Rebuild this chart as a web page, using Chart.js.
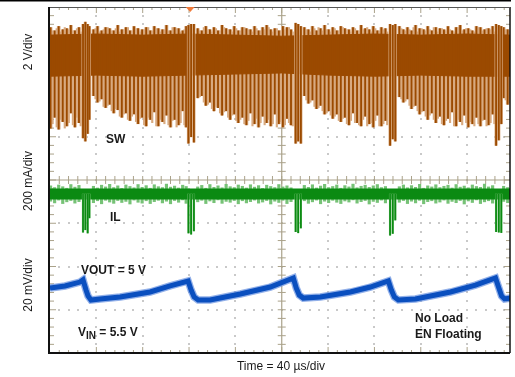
<!DOCTYPE html>
<html>
<head>
<meta charset="utf-8">
<script src="https://cdn.jsdelivr.net/npm/chart.js@4.4.1/dist/chart.umd.min.js"></script>
<style>
html, body { margin: 0; padding: 0; background: #fff; }
#wrap { width: 515px; height: 377px; }
</style>
</head>
<body>
<div id="wrap"><canvas id="scope" width="515" height="377"></canvas></div>
<script>
// time in µs (40 µs/div), SW in V, IL in mA, VOUT ripple in mV
var usPerDiv = 40;
var triggerT = 121;

// switching pulses between the burst events
var pulseT = [0.5, 4, 7.5, 11, 14.5, 18, 21.5, 25,
	37.5, 41, 44.5, 48, 51.5, 55, 58.5, 62, 65.5, 69, 72.5, 76, 79.5, 83, 86.5, 90, 93.5, 97, 100.5, 104, 107.5, 111, 114.5, 117.5,
	127.5, 131, 134.5, 138, 141.5, 145, 148.5, 152, 155.5, 159, 162.5, 166, 169.5, 173, 176.5, 180, 183.5, 187, 190.5, 194, 197.5, 201, 204.5, 208,
	219.5, 223, 226.5, 230, 233.5, 237, 240.5, 244, 247.5, 251, 254.5, 258, 261.5, 265, 268.5, 272, 275.5, 279, 282.5, 286, 289.5,
	301.5, 305, 308.5, 312, 315.5, 319, 322.5, 326, 329.5, 333, 336.5, 340, 343.5, 347, 350.5, 354, 357.5, 361, 364.5, 368, 371.5, 375, 378.5, 382,
	391.5, 395];
var swLow = [0.8, 1.3, 0.75, 1.1, 0.9, 1.5, 0.85, 1.05,
	2.3, 2.0, 2.15, 1.75, 1.9, 1.5, 1.65, 1.3, 1.5, 1.15, 1.45, 1.0, 1.3, 0.9, 1.2, 1.55, 0.9, 1.1, 1.4, 0.85, 1.2, 0.95, 1.6, 0.85,
	2.2, 2.3, 1.85, 2.0, 1.6, 1.75, 1.4, 1.6, 1.2, 1.45, 1.05, 1.3, 0.95, 1.5, 1.0, 0.85, 1.35, 1.05, 0.9, 1.45, 1.0, 0.85, 1.25, 0.95,
	2.3, 1.95, 2.1, 1.7, 1.85, 1.45, 1.6, 1.25, 1.45, 1.1, 1.3, 0.95, 1.5, 1.05, 0.9, 1.35, 1.0, 0.85, 1.4, 0.9, 1.15,
	2.25, 2.0, 2.15, 1.7, 1.85, 1.45, 1.6, 1.2, 1.5, 1.05, 1.35, 0.95, 1.25, 1.55, 0.9, 1.1, 1.4, 0.85, 1.0, 1.3, 0.9, 1.2, 0.95, 1.45,
	2.2, 1.9];
var swHigh = [5.45, 5.3, 5.5, 5.35, 5.4, 5.55, 5.3, 5.45,
	5.35, 5.5, 5.3, 5.45, 5.4, 5.3, 5.55, 5.35, 5.45, 5.3, 5.5, 5.4, 5.35, 5.45, 5.3, 5.5, 5.4, 5.35, 5.55, 5.3, 5.45, 5.4, 5.3, 5.5,
	5.4, 5.3, 5.5, 5.35, 5.45, 5.3, 5.55, 5.4, 5.35, 5.5, 5.3, 5.45, 5.4, 5.35, 5.5, 5.3, 5.45, 5.55, 5.35, 5.4, 5.3, 5.5, 5.45, 5.35,
	5.45, 5.35, 5.5, 5.3, 5.4, 5.55, 5.35, 5.45, 5.3, 5.5, 5.4, 5.35, 5.45, 5.3, 5.55, 5.4, 5.35, 5.5, 5.3, 5.45, 5.4,
	5.5, 5.35, 5.45, 5.3, 5.55, 5.4, 5.35, 5.5, 5.3, 5.45, 5.4, 5.35, 5.5, 5.3, 5.45, 5.55, 5.35, 5.4, 5.3, 5.5, 5.45, 5.35, 5.4, 5.5,
	5.45, 5.35];

// ringing spikes in between the main pulses
var ringT = [2.25, 5.75, 9.25, 12.75, 16.25, 19.75, 23.25, 26.5,
	39.25, 42.75, 46.25, 49.75, 53.25, 56.75, 60.25, 63.75, 67.25, 70.75, 74.25, 77.75, 81.25, 84.75, 88.25, 91.75, 95.25, 98.75, 102.25, 105.75, 109.25, 112.75, 116,
	129.25, 132.75, 136.25, 139.75, 143.25, 146.75, 150.25, 153.75, 157.25, 160.75, 164.25, 167.75, 171.25, 174.75, 178.25, 181.75, 185.25, 188.75, 192.25, 195.75, 199.25, 202.75, 206.25, 209.5,
	221.25, 224.75, 228.25, 231.75, 235.25, 238.75, 242.25, 245.75, 249.25, 252.75, 256.25, 259.75, 263.25, 266.75, 270.25, 273.75, 277.25, 280.75, 284.25, 287.75, 291,
	303.25, 306.75, 310.25, 313.75, 317.25, 320.75, 324.25, 327.75, 331.25, 334.75, 338.25, 341.75, 345.25, 348.75, 352.25, 355.75, 359.25, 362.75, 366.25, 369.75, 373.25, 376.75, 380.25, 383.5,
	393.25, 396.5];
var ringLow = [1.0, 0.85, 1.2, 0.8, 1.05, 0.95, 1.3, 0.9,
	2.15, 2.05, 1.8, 1.85, 1.6, 1.7, 1.35, 1.45, 1.2, 1.35, 1.1, 1.25, 0.95, 1.3, 1.05, 0.9, 1.2, 1.0, 0.95, 1.15, 0.85, 1.05, 0.95,
	2.25, 2.0, 1.9, 1.7, 1.8, 1.5, 1.55, 1.3, 1.4, 1.15, 1.2, 1.0, 1.15, 0.9, 1.25, 1.05, 0.95, 1.2, 1.0, 0.85, 1.1, 0.95, 1.05, 0.9,
	2.1, 2.0, 1.8, 1.75, 1.6, 1.5, 1.4, 1.35, 1.15, 1.25, 1.0, 1.15, 1.05, 0.95, 1.2, 0.9, 1.05, 1.15, 0.9, 1.0, 0.95,
	2.15, 2.05, 1.85, 1.8, 1.6, 1.55, 1.35, 1.4, 1.2, 1.25, 1.0, 1.15, 1.05, 0.9, 1.2, 0.95, 1.05, 1.1, 0.9, 1.0, 1.15, 0.9, 1.05, 1.0,
	2.1, 2.0];
var ringHigh = [5.3, 5.4, 5.25, 5.45, 5.35, 5.3, 5.4, 5.25,
	5.4, 5.25, 5.35, 5.45, 5.3, 5.4, 5.25, 5.35, 5.45, 5.3, 5.4, 5.25, 5.35, 5.45, 5.3, 5.4, 5.25, 5.35, 5.3, 5.45, 5.4, 5.25, 5.35,
	5.3, 5.45, 5.35, 5.25, 5.4, 5.3, 5.45, 5.35, 5.25, 5.4, 5.3, 5.45, 5.35, 5.25, 5.4, 5.3, 5.35, 5.45, 5.25, 5.4, 5.3, 5.35, 5.45, 5.25,
	5.35, 5.25, 5.4, 5.45, 5.3, 5.35, 5.25, 5.4, 5.3, 5.45, 5.35, 5.25, 5.4, 5.3, 5.35, 5.45, 5.25, 5.4, 5.3, 5.35, 5.25,
	5.4, 5.3, 5.35, 5.45, 5.25, 5.4, 5.3, 5.35, 5.45, 5.25, 5.4, 5.3, 5.35, 5.25, 5.45, 5.3, 5.4, 5.35, 5.25, 5.45, 5.3, 5.4, 5.35, 5.25,
	5.35, 5.3];

var ilHigh = [38, 30, 42, 34, 27, 44, 32, 40,
	36, 28, 41, 33, 45, 30, 38, 26, 42, 35, 29, 44, 31, 39, 27, 43, 34, 30, 46, 32, 37, 28, 41, 35,
	33, 40, 27, 44, 31, 38, 29, 45, 34, 30, 42, 36, 28, 43, 32, 39, 26, 41, 35, 30, 44, 33, 38, 29,
	40, 31, 43, 28, 37, 45, 30, 35, 42, 27, 39, 33, 46, 29, 36, 41, 31, 38, 44, 30, 35,
	34, 42, 29, 39, 31, 45, 27, 38, 33, 43, 30, 36, 41, 28, 44, 32, 37, 29, 42, 35, 31, 46, 33, 39,
	36, 30];
var ilLow = [-33, -41, -28, -44, -36, -30, -42, -35,
	-40, -31, -45, -29, -37, -43, -30, -39, -34, -46, -28, -38, -42, -31, -44, -35, -29, -41, -33, -45, -30, -38, -27, -43,
	-36, -29, -44, -32, -40, -27, -43, -34, -38, -30, -45, -31, -41, -35, -28, -42, -37, -30, -46, -33, -39, -29, -44, -35,
	-31, -43, -36, -28, -45, -33, -40, -29, -38, -44, -32, -37, -27, -42, -35, -30, -46, -34, -39, -28, -41,
	-38, -30, -44, -33, -41, -29, -45, -35, -31, -42, -37, -28, -43, -34, -40, -30, -46, -32, -39, -27, -44, -36, -31, -42,
	-34, -40];

// burst events (deep SW spikes, IL dips)
var evT = [28.5, 30.5, 32.5, 34.0, 119.5, 121.8, 124.2, 212.0, 214.2, 216.5, 293.5, 295.8, 298.0, 385.0, 387.3, 389.5];
var evSwLow = [0.35, 0.2, 0.55, 1.2, 0.1, 0.4, 0.15, 0.1, 0.2, 0.1, 0.0, 0.3, 0.2, 0.0, 0.25, 1.0];
var evSwHigh = [5.6, 5.7, 5.6, 5.5, 5.55, 5.6, 5.6, 5.65, 5.6, 5.5, 5.6, 5.55, 5.6, 5.6, 5.55, 5.5];
var evIlLow = [-176, -165, -180, -110, -180, -185, -170, -174, -179, -157, -190, -182, -120, -174, -176, -178];

// dense SW switching band
var bandT = [0, 40, 80, 120, 160, 200, 240, 280, 320, 360, 397];
var bandTop = [5.1, 5.15, 5.1, 5.15, 5.1, 5.05, 5.1, 5.15, 5.1, 5.15, 5.1];
var bandBot = [3.2, 3.25, 3.2, 3.25, 3.3, 3.35, 3.25, 3.2, 3.25, 3.2, 3.2];

// IL baseline
var ilBaseT = [0, 100, 200, 300, 397];
var ilBase = [0, 0, 0, 0, 0];

// VOUT ripple sawtooth
var voutT = [0, 13, 25.9, 28.5, 31.1, 32.8, 35.4, 43.2, 60.5, 86.4, 103.7, 119.2, 121.8, 124.4, 127.9, 138.2, 164.2, 190.1,
	210, 212.5, 215.1, 218.6, 233.3, 259.2, 276.5, 292, 294.6, 297.2, 300.7, 315.4, 345.6, 367.2, 384.5, 387.1, 389.7, 392.3, 397.4];
var voutMv = [0.5, 1.4, 3.2, 4.2, -0.5, -3.2, -5.1, -4.6, -3.7, -1.4, 1.4, 3.7, -0.5, -3.7, -5.1, -5.1, -2.3, 0.9,
	5.1, 0.5, -2.8, -4.2, -3.7, -1.4, 0.9, 3.7, -0.5, -3.7, -5.1, -4.6, -1.4, 1.8, 5.1, 0.9, -3.2, -4.6, -4.2];

var xy = function (xs, ys) {
	return xs.map(function (t, i) { return { x: t, y: ys[i] }; });
};
var span = function (xs, lo, hi) {
	return xs.map(function (t, i) { return { x: t, y: [lo[i], Array.isArray(hi) ? hi[i] : hi] }; });
};

var ORANGE = '#9b4a00', ORANGE_LT = '#d8aa80';
var GREEN = '#0b8a12', GREEN_LT = '#76c276';
var BLUE = '#0a4fbf', BLUE_LT = 'rgba(110,150,225,0.75)';

var bars = function (data, color, w, axis, order) {
	return { type: 'bar', data: data, backgroundColor: color, barThickness: w, grouped: false,
		borderWidth: 0, yAxisID: axis, order: order };
};
var line = function (data, color, w, axis, order, extra) {
	var d = { type: 'line', data: data, borderColor: color, borderWidth: w, pointRadius: 0,
		tension: 0, fill: false, yAxisID: axis, order: order };
	return Object.assign(d, extra || {});
};

var FONT = '"Liberation Sans", Arial, Helvetica, sans-serif';

var scopeGrid = {
	id: 'scopeGrid',
	beforeDatasetsDraw: function (chart) {
		var ctx = chart.ctx, a = chart.chartArea, sx = chart.scales.x;
		var dx = sx.getPixelForValue(usPerDiv) - sx.getPixelForValue(0);
		var dy = (a.bottom - a.top) / 8;
		var seg = function (x1, y1, x2, y2) {
			ctx.beginPath(); ctx.moveTo(x1, y1); ctx.lineTo(x2, y2); ctx.stroke();
		};
		ctx.save();
		ctx.fillStyle = '#c9c9c9';
		for (var i = 1; i < 10; i++) {
			if (i === 5) continue;
			var gx = Math.round(a.left + i * dx);
			for (var j = 1; j < 40; j++) ctx.fillRect(gx - 1, Math.round(a.top + j * dy / 5) - 1, 2, 2);
		}
		for (var k = 1; k < 8; k++) {
			if (k === 4) continue;
			var gy = Math.round(a.top + k * dy);
			for (var m = 1; m < 50; m++) {
				var px = a.left + m * dx / 5;
				if (px > a.right - 3) break;
				ctx.fillRect(Math.round(px) - 1, gy - 1, 2, 2);
			}
		}
		var cx = a.left + 5 * dx, cy = a.top + 4 * dy;
		ctx.strokeStyle = '#aaa28a';
		ctx.lineWidth = 1.2;
		seg(cx, a.top, cx, a.bottom);
		seg(a.left, cy, a.right, cy);
		ctx.lineWidth = 1;
		for (var n = 1; n < 40; n++) {
			var ty = a.top + n * dy / 5, len = n % 5 ? 4 : 6;
			seg(cx - 4, ty, cx + 4, ty);
			seg(a.left, ty, a.left + len, ty);
			seg(a.right, ty, a.right - len, ty);
		}
		for (var q = 1; q < 50; q++) {
			var tx = a.left + q * dx / 5;
			if (tx > a.right - 2) break;
			var l2 = q % 5 ? 3 : 6;
			seg(tx, cy - 4, tx, cy + 4);
			seg(tx, a.bottom, tx, a.bottom - l2);
			seg(tx, a.top, tx, a.top + l2);
		}
		ctx.restore();
	},
	afterDraw: function (chart) {
		var ctx = chart.ctx, a = chart.chartArea;
		ctx.save();
		// frame
		ctx.strokeStyle = '#111';
		ctx.lineWidth = 2;
		ctx.beginPath();
		ctx.moveTo(a.left - 1, a.top); ctx.lineTo(a.left - 1, a.bottom); ctx.lineTo(a.right, a.bottom);
		ctx.stroke();
		ctx.lineWidth = 1.5;
		ctx.beginPath(); ctx.moveTo(a.right, a.top); ctx.lineTo(a.right, a.bottom); ctx.stroke();
		ctx.strokeStyle = '#555';
		ctx.lineWidth = 1;
		ctx.beginPath(); ctx.moveTo(a.left, a.top + 0.5); ctx.lineTo(a.right, a.top + 0.5); ctx.stroke();
		ctx.strokeStyle = '#000';
		ctx.lineWidth = 1.5;
		ctx.beginPath(); ctx.moveTo(0, 0.75); ctx.lineTo(a.right + 1, 0.75); ctx.stroke();

		// trigger position marker
		var trx = chart.scales.x.getPixelForValue(triggerT);
		ctx.fillStyle = '#f07a3a';
		ctx.beginPath();
		ctx.moveTo(trx - 4.5, a.top);
		ctx.lineTo(trx + 4.5, a.top);
		ctx.lineTo(trx, a.top + 5);
		ctx.closePath();
		ctx.fill();

		// axis captions
		ctx.fillStyle = '#1a1a1a';
		ctx.font = '12px ' + FONT;
		ctx.textAlign = 'center';
		ctx.textBaseline = 'middle';
		[['2 V/div', 52], ['200 mA/div', 181], ['20 mV/div', 285]].forEach(function (c) {
			ctx.save();
			ctx.translate(29, c[1]);
			ctx.rotate(-Math.PI / 2);
			ctx.fillText(c[0], 0, 0);
			ctx.restore();
		});
		ctx.fillText('Time = 40 \u00b5s/div', 281, 367);

		// trace labels
		ctx.textAlign = 'left';
		ctx.font = 'bold 12px ' + FONT;
		ctx.fillText('SW', 106, 140);
		ctx.fillText('IL', 110, 218);
		ctx.fillText('VOUT = 5 V', 81, 271);
		ctx.fillText('No Load', 415, 319);
		ctx.fillText('EN Floating', 415, 335);
		var x0 = 78;
		ctx.fillText('V', x0, 333);
		x0 += ctx.measureText('V').width;
		ctx.font = 'bold 10px ' + FONT;
		ctx.fillText('IN', x0, 336);
		x0 += ctx.measureText('IN').width;
		ctx.font = 'bold 12px ' + FONT;
		ctx.fillText(' = 5.5 V', x0, 333);
		ctx.restore();
	}
};

new Chart(document.getElementById('scope').getContext('2d'), {
	type: 'line',
	data: {
		datasets: [
			line(xy(voutT, voutMv), BLUE, 5, 'yV', 1),
			line(xy(voutT, voutMv), BLUE_LT, 7.5, 'yV', 2),
			bars(span(evT, evIlLow, 0), GREEN, 1, 'yIL', 3),
			bars(span(evT, evIlLow, 0), GREEN_LT, 1.6, 'yIL', 4),
			line(xy(ilBaseT, ilBase), GREEN, 11, 'yIL', 5),
			bars(span(pulseT, ilLow, ilHigh), GREEN_LT, 2.5, 'yIL', 6),
			bars(span(evT, evSwLow, evSwHigh), ORANGE, 1.2, 'ySW', 7),
			bars(span(evT, evSwLow, evSwHigh), ORANGE_LT, 2.5, 'ySW', 8),
			bars(span(pulseT, swLow, swHigh), ORANGE, 1.2, 'ySW', 9),
			line(xy(bandT, bandTop), ORANGE, 1, 'ySW', 10, { fill: '+1', backgroundColor: ORANGE }),
			line(xy(bandT, bandBot), ORANGE, 1, 'ySW', 11),
			bars(span(pulseT, swLow, swHigh), ORANGE_LT, 3, 'ySW', 12),
			bars(span(ringT, ringLow, ringHigh), ORANGE_LT, 1.5, 'ySW', 13)
		]
	},
	options: {
		responsive: false,
		animation: false,
		devicePixelRatio: 1,
		layout: { padding: { left: 50, right: 5, top: 7, bottom: 24 } },
		plugins: { legend: { display: false }, tooltip: { enabled: false } },
		scales: {
			x: { type: 'linear', min: 0, max: 397, offset: false, display: false },
			ySW: { type: 'linear', min: -9.6, max: 6.4, display: false },
			yIL: { type: 'linear', min: -735, max: 865, display: false },
			yV: { type: 'linear', min: -29.6, max: 130.4, display: false }
		}
	},
	plugins: [scopeGrid]
});
</script>
</body>
</html>
